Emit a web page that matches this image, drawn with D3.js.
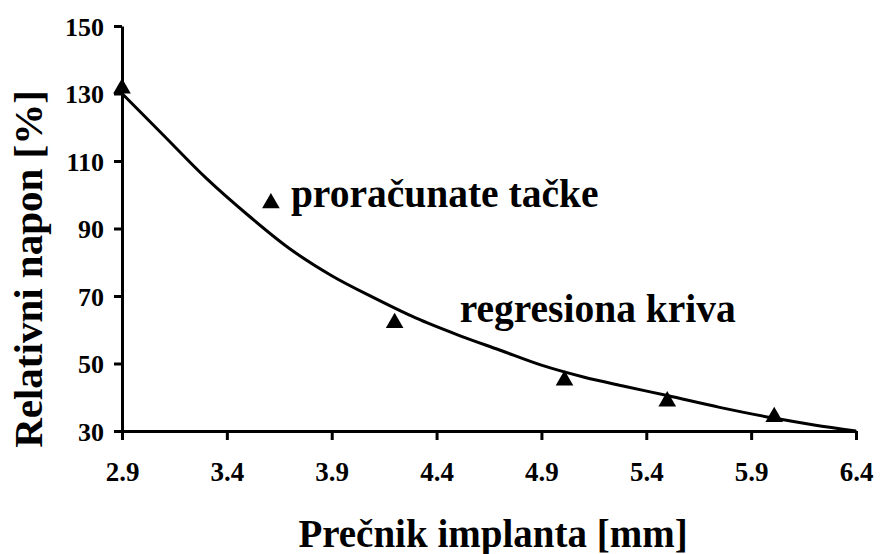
<!DOCTYPE html>
<html>
<head>
  <meta charset="utf-8">
  <script src="https://cdn.jsdelivr.net/npm/d3@7"></script>
  <style>
    text { font-family: "Liberation Serif", "Times New Roman", serif; font-weight: bold; }
  </style>
</head>
<body style="margin:0">
  <script>
    var serif = "Liberation Serif";

    // tick labels
    var xTicks = [2.9, 3.4, 3.9, 4.4, 4.9, 5.4, 5.9, 6.4];
    var yTicks = [30, 50, 70, 90, 110, 130, 150];

    // calculated points (triangles)
    var pointX = [2.9, 4.2, 5.01, 5.5, 6.01];
    var pointY = [131.5, 62, 45, 38.8, 34.2];

    // regression curve
    var curveX = [2.9, 3.1, 3.3, 3.5, 3.7, 3.9, 4.1, 4.3, 4.5, 4.7, 4.9, 5.1, 5.3, 5.5, 5.75, 6.0, 6.2, 6.4];
    var curveY = [130, 117.5, 105, 94, 84, 76, 69.5, 63.5, 58.5, 54, 49.5, 46, 43.2, 40.5, 37, 33.9, 31.8, 30];

    // legend marker + labels
    var legendPoint = {x: 3.61, y: 97.5, label: "proračunate tačke"};
    var curveLabel = {x: 4.51, y: 59, label: "regresiona kriva"};

    var width = 881, height = 554;
    var x0 = 122, x1 = 856, yTop = 26, yBot = 431;

    var svg = d3.select("body").append("svg")
      .attr("width", width)
      .attr("height", height)
      .attr("font-family", serif)
      .attr("font-weight", "bold");

    var x = d3.scaleLinear().domain([2.9, 6.4]).range([x0, x1]);
    var y = d3.scaleLinear().domain([30, 150]).range([yBot, yTop]);

    function serifText(sel, size) {
      sel.attr("style", "font-family: 'Liberation Serif'; font-weight: bold; font-size: " + size + "px")
        .attr("fill", "#000");
    }

    /* Axes */
    var yAxis = svg.append("g")
      .attr("transform", "translate(" + x0 + ",0)")
      .call(d3.axisLeft(y).tickValues(yTicks).tickSize(8).tickSizeOuter(0).tickPadding(10));
    yAxis.attr("font-family", null).attr("font-size", null);
    yAxis.selectAll("text").attr("dy", "0.35em").call(serifText, 26);

    var xAxis = svg.append("g")
      .attr("transform", "translate(0," + yBot + ")")
      .call(d3.axisBottom(x).tickValues(xTicks).tickSize(9).tickSizeOuter(0).tickPadding(22)
        .tickFormat(d3.format(".1f")));
    xAxis.attr("font-family", null).attr("font-size", null);
    xAxis.selectAll("text").call(serifText, 27);

    svg.selectAll(".domain, .tick line")
      .attr("stroke", "#000")
      .attr("stroke-width", 3);

    /* Regression curve */
    var pts = curveX.map(function(d, i){ return [d, curveY[i]]; });
    svg.append("path")
      .datum(pts)
      .attr("fill", "none")
      .attr("stroke", "#000")
      .attr("stroke-width", 3)
      .attr("d", d3.line()
        .x(function(d){ return x(d[0]); })
        .y(function(d){ return y(d[1]); })
        .curve(d3.curveMonotoneX));

    /* Triangles */
    var tri = d3.symbol().type(d3.symbolTriangle).size(135);
    svg.selectAll("path.pt")
      .data(pointX)
      .enter()
      .append("path")
      .attr("class", "pt")
      .attr("d", tri)
      .attr("fill", "#000")
      .attr("transform", function(d, i){
        return "translate(" + x(d) + "," + y(pointY[i]) + ")";
      });

    // legend marker
    svg.append("path")
      .attr("d", tri)
      .attr("fill", "#000")
      .attr("transform", "translate(" + x(legendPoint.x) + "," + y(legendPoint.y) + ")");

    svg.append("text")
      .attr("x", x(legendPoint.x) + 20)
      .attr("y", y(legendPoint.y) + 4)
      .call(serifText, 39.5)
      .text(legendPoint.label);

    svg.append("text")
      .attr("x", x(curveLabel.x))
      .attr("y", y(curveLabel.y) - 11)
      .call(serifText, 39.5)
      .text(curveLabel.label);

    /* Axis titles */
    svg.append("text")
      .attr("transform", "translate(42,269) rotate(-90)")
      .attr("text-anchor", "middle")
      .call(serifText, 41)
      .text("Relativni napon [%]");

    svg.append("text")
      .attr("x", 493)
      .attr("y", 547)
      .attr("text-anchor", "middle")
      .call(serifText, 39)
      .text("Prečnik implanta [mm]");
  </script>
</body>
</html>
